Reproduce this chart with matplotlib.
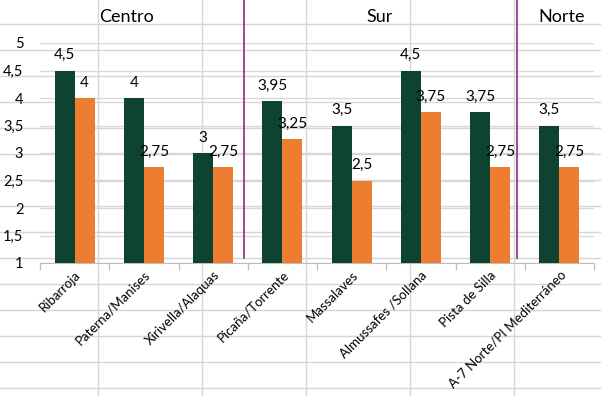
import matplotlib
matplotlib.use("Agg")
import matplotlib.pyplot as plt
from matplotlib.lines import Line2D
import numpy as np

plt.rcParams['font.family'] = ['Lato', 'DejaVu Sans']

categorias = ["Ribarroja", "Paterna/Manises", "Xirivella/Alaquas", "Picaña/Torrente",
              "Massalaves", "Almussafes /Sollana", "Pista de Silla",
              "A-7 Norte/PI Mediterráneo"]
serie1 = [4.5, 4, 3, 3.95, 3.5, 4.5, 3.75, 3.5]
serie2 = [4, 2.75, 2.75, 3.25, 2.5, 3.75, 2.75, 2.75]
zonas = ["Centro", "Sur", "Norte"]
yticks = [1, 1.5, 2, 2.5, 3, 3.5, 4, 4.5, 5]

verde = "#0D4330"
naranja = "#ED7D31"
morado = "#8B2A8B"
gris = "#D6D6D6"

W, H = 601, 396
fig = plt.figure(figsize=(W / 100, H / 100), dpi=100)

# rejilla de la hoja de calculo
for yy in range(24, H, 26):
    fig.add_artist(Line2D([0, 1], [1 - yy / H, 1 - yy / H], color=gris, lw=1, zorder=0))
for xx in range(98, W, 104):
    fig.add_artist(Line2D([xx / W, xx / W], [0, 1], color=gris, lw=1, zorder=0))

ax = fig.add_axes([40 / W, 1 - 263 / H, 554 / W, 220 / H])
ax.patch.set_alpha(0)

x = np.arange(len(categorias))
w = 0.29
ax.bar(x - w / 2, serie1, w, color=verde, zorder=3)
ax.bar(x + w / 2, serie2, w, color=naranja, zorder=3)


def fmt(v):
    return ("%g" % v).replace(".", ",")


for i in range(len(categorias)):
    ax.annotate(fmt(serie1[i]), (x[i] - w / 2, serie1[i]), xytext=(0, 6),
                textcoords="offset points", ha="center", va="bottom", fontsize=11, zorder=4)
    ax.annotate(fmt(serie2[i]), (x[i] + w / 2, serie2[i]), xytext=(0, 6),
                textcoords="offset points", ha="center", va="bottom", fontsize=11, zorder=4)

ax.set_xlim(-0.5, len(categorias) - 0.5)
ax.set_ylim(1, 5)
ax.set_yticks(yticks)
ax.set_yticklabels([fmt(v) for v in yticks], fontsize=10.5)
ax.yaxis.grid(True, color="#D9D9D9", lw=1)
ax.set_axisbelow(True)
ax.tick_params(axis="y", length=0, pad=12)

ax.set_xticks(x)
ax.set_xticklabels(categorias, rotation=45, ha="right", rotation_mode="anchor", fontsize=9.5)
ax.tick_params(axis="x", which="major", length=0, pad=4)
ax.set_xticks(np.arange(len(categorias) + 1) - 0.5, minor=True)
ax.tick_params(axis="x", which="minor", length=5, color="#BFBFBF", width=1)

for s in ["top", "right", "left"]:
    ax.spines[s].set_visible(False)
ax.spines["bottom"].set_color("#BFBFBF")

# separadores y titulos de zona
for xx in [244, 517]:
    fig.add_artist(Line2D([xx / W, xx / W], [1 - 258 / H, 1], color=morado, lw=1.2, zorder=5))
for z, xx in zip(zonas, [127, 380, 562]):
    fig.text(xx / W, 1 - 17 / H, z, ha="center", va="center", fontsize=13)

fig.savefig("out.png", dpi=100)
